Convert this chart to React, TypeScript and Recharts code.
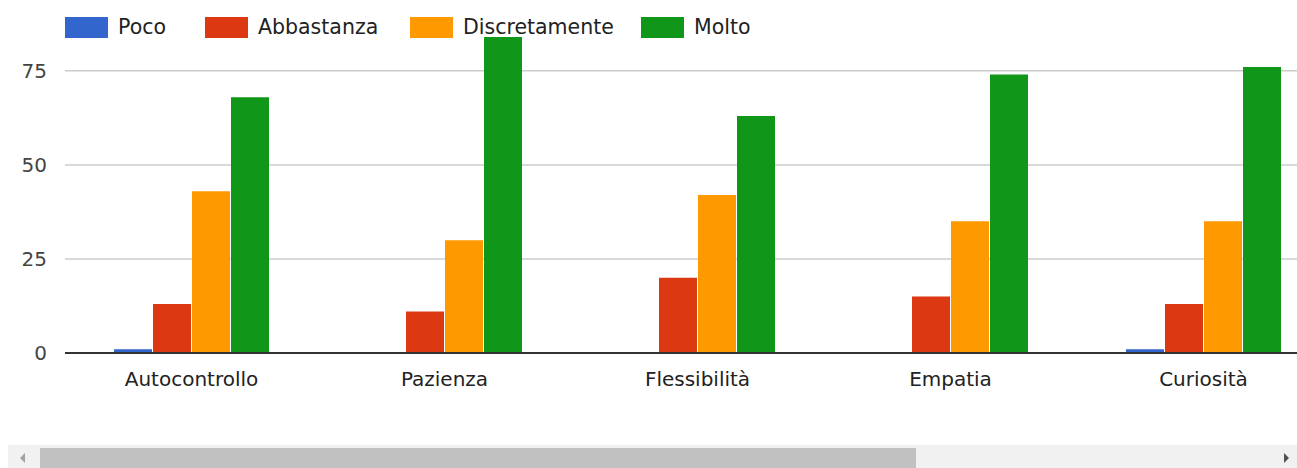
import { BarChart, Bar, XAxis, YAxis, CartesianGrid } from "recharts";

const categories = ["Autocontrollo", "Pazienza", "Flessibilità", "Empatia", "Curiosità"];
const poco = [1, 0, 0, 0, 1];
const abbastanza = [13, 11, 20, 15, 13];
const discretamente = [43, 30, 42, 35, 35];
const molto = [68, 84, 63, 74, 76];
const yTicks = [0, 25, 50, 75];

const seriesNames = ["Poco", "Abbastanza", "Discretamente", "Molto"];
const seriesKeys = ["poco", "abbastanza", "discretamente", "molto"];
const seriesColors = ["#3366cc", "#dc3912", "#ff9900", "#109618"];

// left edge of each legend entry (px)
const legendLeft = [65, 205, 410, 641];

const data = categories.map((name, i) => ({
    name,
    poco: poco[i],
    abbastanza: abbastanza[i],
    discretamente: discretamente[i],
    molto: molto[i],
}));

const FONT = "'DejaVu Sans', sans-serif";

function TopLegend() {
    return (
        <>
            {seriesNames.map((n, i) => (
                <div
                    key={n}
                    style={{
                        position: "absolute",
                        left: legendLeft[i],
                        top: 17,
                        display: "flex",
                        alignItems: "center",
                        fontFamily: FONT,
                        fontSize: 20.5,
                        color: "#222",
                        whiteSpace: "nowrap",
                    }}
                >
                    <div style={{ width: 43, height: 21, background: seriesColors[i], marginRight: 10 }} />
                    <span style={{ lineHeight: "21px" }}>{n}</span>
                </div>
            ))}
        </>
    );
}

function FakeScrollbar() {
    return (
        <div style={{ position: "absolute", left: 8, top: 445, width: 1289, height: 23, background: "#f1f1f1" }}>
            {/* left arrow (disabled) */}
            <div
                style={{
                    position: "absolute",
                    left: 12,
                    top: 8,
                    width: 0,
                    height: 0,
                    borderTop: "5px solid transparent",
                    borderBottom: "5px solid transparent",
                    borderRight: "5px solid #a3a3a3",
                }}
            />
            {/* thumb */}
            <div style={{ position: "absolute", left: 32, top: 3, width: 876, height: 20, background: "#c1c1c1" }} />
            {/* right arrow */}
            <div
                style={{
                    position: "absolute",
                    left: 1276,
                    top: 8,
                    width: 0,
                    height: 0,
                    borderTop: "5px solid transparent",
                    borderBottom: "5px solid transparent",
                    borderLeft: "5px solid #505050",
                }}
            />
        </div>
    );
}

export default function App() {
    return (
        <div
            style={{
                position: "fixed",
                left: 0,
                top: 0,
                width: 1297,
                height: 468,
                overflow: "hidden",
                background: "#fff",
                fontFamily: FONT,
            }}
        >
            <BarChart
                width={1330}
                height={440}
                data={data}
                margin={{ top: 37, right: 0, bottom: 0, left: 0 }}
                barGap={1}
                barSize={38}
            >
                {/* horizontal grid only, at the tick values */}
                <CartesianGrid
                    vertical={false}
                    horizontalValues={yTicks}
                    stroke="#cccccc"
                    strokeWidth={1.5}
                />

                <XAxis
                    dataKey="name"
                    height={87}
                    tickLine={false}
                    tickMargin={13}
                    axisLine={{ stroke: "#333333", strokeWidth: 2 }}
                    tick={{ fontSize: 20, fill: "#222", fontFamily: FONT }}
                />

                <YAxis
                    width={65}
                    domain={[0, 84]}
                    ticks={yTicks}
                    allowDataOverflow
                    axisLine={false}
                    tickLine={false}
                    tickMargin={12}
                    tick={{ fontSize: 20, fill: "#444", fontFamily: FONT }}
                />

                {seriesKeys.map((k, i) => (
                    <Bar
                        key={k}
                        dataKey={k}
                        name={seriesNames[i]}
                        fill={seriesColors[i]}
                        isAnimationActive={false}
                    />
                ))}
            </BarChart>
            <TopLegend />
            <FakeScrollbar />
        </div>
    );
}
